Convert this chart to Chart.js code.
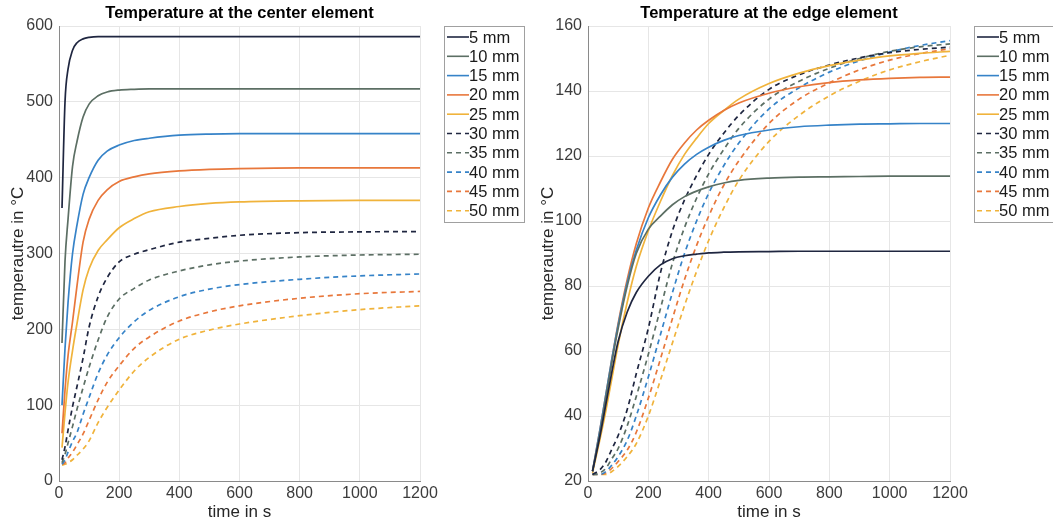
<!DOCTYPE html>
<html>
<head>
<meta charset="utf-8">
<script src="https://cdn.jsdelivr.net/npm/chart.js@4/dist/chart.umd.min.js"></script>
<style>
    body {margin: 0; background: #ffffff;}
    #left_box {position: absolute; left: 0; top: 0; width: 530px; height: 524px;}
    #right_box {position: absolute; left: 530px; top: 0; width: 523px; height: 524px;}
</style>
</head>
<body>
<div id="left_box"><canvas id="center_canvas" width="530" height="524"></canvas></div>
<div id="right_box"><canvas id="edge_canvas" width="523" height="524"></canvas></div>
<script>
const series_labels = ["5 mm","10 mm","15 mm","20 mm","25 mm","30 mm","35 mm","40 mm","45 mm","50 mm"];

// center element, time in s and temperature in °C
const center_time = [10, 20, 30, 45, 60, 80, 100, 130, 160, 200, 250, 300, 400, 500, 600, 800, 1000, 1200];
const center_5 = [360, 500, 543, 568, 578, 583, 585, 586, 586, 586, 586, 586, 586, 586, 586, 586, 586, 586];
const center_10 = [182, 290, 345, 415, 448, 480, 497, 508, 513, 515.5, 516.5, 517, 517, 517, 517, 517, 517, 517];
const center_15 = [100, 175, 235, 300, 338, 378, 400, 423, 435, 443, 449, 452, 456, 457.5, 458, 458, 458, 458];
const center_20 = [63, 120, 165, 210, 258, 315, 345, 370, 384, 395, 401, 405, 409, 411, 412, 413, 413, 413];
const center_25 = [44, 90, 130, 172, 208, 252, 280, 304, 318, 334, 346, 355, 362, 366, 368, 369.5, 370, 370];
const center_30 = [28, 45, 67, 98, 125, 162, 203, 243, 268, 289, 299, 305, 315, 320, 324, 327.5, 328.5, 329];
const center_35 = [24, 35, 50, 72, 95, 123, 150, 186, 216, 240, 254, 265, 277, 285, 290, 295.5, 298, 299];
const center_40 = [22, 28, 38, 52, 64, 88, 110, 142, 166, 189, 210, 225, 243, 253, 259, 266, 270.5, 273];
const center_45 = [22, 24, 30, 38, 48, 62, 80, 107, 130, 152, 175, 190, 211, 223, 231, 241, 247, 250];
const center_50 = [21, 22, 24, 28, 34, 42, 53, 77, 97, 120, 145, 163, 187, 199, 207, 218, 226, 231];

// edge element
const edge_time = [15, 40, 60, 80, 100, 130, 160, 200, 240, 280, 320, 360, 400, 450, 500, 600, 700, 800, 900, 1000, 1100, 1200];
const edge_5 = [23, 34, 44, 54, 63, 72, 78, 83, 86.5, 88.4, 89.3, 89.8, 90.2, 90.4, 90.5, 90.6, 90.7, 90.7, 90.7, 90.7, 90.7, 90.7];
const edge_10 = [23, 35, 46, 57, 67, 80, 90, 97.5, 101.5, 105, 107.5, 109.2, 110.5, 111.7, 112.5, 113.2, 113.5, 113.6, 113.7, 113.8, 113.8, 113.8];
const edge_15 = [23, 36, 47, 58, 68, 81, 91, 101, 108, 113.5, 117.5, 120.5, 122.7, 124.8, 126.3, 128, 129, 129.5, 129.8, 129.9, 130, 130];
const edge_20 = [23, 36, 47, 58, 68.5, 82, 93, 104, 112, 119, 124, 128, 131, 134, 136.3, 139.3, 141.3, 142.6, 143.4, 143.9, 144.2, 144.3];
const edge_25 = [22.5, 33, 42, 52, 62, 75, 86, 97, 106, 114, 120.5, 125.5, 130, 134, 137.5, 142.3, 145.5, 147.8, 149.5, 150.8, 151.6, 152.2];
const edge_30 = [22, 23.5, 26, 30, 34, 42, 53, 67, 84, 97, 106.5, 114, 120.5, 127, 132.5, 140.5, 145, 148, 150.2, 151.8, 152.8, 153.5];
const edge_35 = [22, 22.5, 24, 27, 30, 37, 46, 59, 73, 87, 98, 107, 114.5, 122, 128.5, 137.5, 143, 147, 150, 152.2, 153.6, 154.5];
const edge_40 = [22, 22, 23, 25, 27.5, 32.5, 40, 52, 65, 78, 90, 100, 108.5, 117, 124, 134.5, 141, 145.8, 149.3, 152, 154, 155.5];
const edge_45 = [22, 22, 22.5, 24, 26, 29.5, 35, 45.5, 57.5, 70, 82, 92.5, 101.5, 111, 118.5, 130, 137.5, 142.5, 146.5, 149.5, 151.5, 153];
const edge_50 = [22, 22, 22, 23, 24.5, 27.5, 31.5, 40, 51, 62.5, 74, 84.5, 94, 104, 112.5, 124.5, 132.5, 138.5, 143, 146.5, 149, 151];

const x_ticks = [0, 200, 400, 600, 800, 1000, 1200];
const center_y_ticks = [0, 100, 200, 300, 400, 500, 600];
const edge_y_ticks = [20, 40, 60, 80, 100, 120, 140, 160];

const line_colors = ["#1f2640", "#5c6f64", "#3683c8", "#e8773b", "#f0b33b"];
const font_family = "'Liberation Sans', Arial, sans-serif";

// legend drawn as a boxed list right of the plot, like the matlab one
const box_legend = {
    id: "box_legend",
    afterDraw(chart, args, opts) {
        const ctx = chart.ctx;
        const area = chart.chartArea;
        const sets = chart.data.datasets;
        const left = area.right + opts.offset;
        const top = area.top;
        const row = 19.3;
        const height = row * sets.length + 3;

        ctx.save();
        ctx.fillStyle = "#ffffff";
        ctx.fillRect(left, top, opts.width, height);
        ctx.strokeStyle = "#a0a0a0";
        ctx.lineWidth = 1;
        ctx.strokeRect(left + 0.5, top + 0.5, opts.width, height);

        ctx.font = "16.5px " + font_family;
        ctx.textBaseline = "middle";
        ctx.textAlign = "left";
        sets.forEach(function(set, i) {
            const y = top + 11 + row * i;
            ctx.beginPath();
            ctx.setLineDash(set.borderDash || []);
            ctx.strokeStyle = set.borderColor;
            ctx.lineWidth = 1.6;
            ctx.moveTo(left + 3, y);
            ctx.lineTo(left + 25, y);
            ctx.stroke();
            ctx.setLineDash([]);
            ctx.fillStyle = "#1a1a1a";
            ctx.fillText(set.label, left + 25, y + 1);
        });
        ctx.restore();
    }
};

function make_datasets(times, series_list) {
    let datasets = [];
    series_list.forEach(function(values, i) {
        datasets.push({
            label: series_labels[i],
            data: times.map(function(t, k) {return {x: t, y: values[k]};}),
            borderColor: line_colors[i % 5],
            backgroundColor: line_colors[i % 5],
            borderWidth: 1.7,
            borderDash: i < 5 ? [] : [5, 4],
            pointRadius: 0,
            cubicInterpolationMode: "monotone",
            fill: false
        });
    });
    return datasets;
}

function make_config(title, datasets, y_ticks, axis_width, legend_offset) {
    const y_min = y_ticks[0];
    const y_max = y_ticks[y_ticks.length - 1];
    return {
        type: "line",
        data: {datasets: datasets},
        plugins: [box_legend],
        options: {
            responsive: false,
            animation: false,
            devicePixelRatio: 1,
            layout: {padding: {left: 0, top: 0, bottom: 0, right: 110}},
            plugins: {
                legend: {display: false},
                tooltip: {enabled: false},
                title: {
                    display: true,
                    text: title,
                    fullSize: false,
                    color: "#000000",
                    font: {family: font_family, size: 16.5, weight: "bold"},
                    padding: {top: 4, bottom: 2.2}
                },
                box_legend: {offset: legend_offset, width: 80}
            },
            scales: {
                x: {
                    type: "linear",
                    min: 0,
                    max: 1200,
                    afterBuildTicks: function(scale) {
                        scale.ticks = x_ticks.map(function(v) {return {value: v};});
                    },
                    afterFit: function(scale) {scale.height = 43;},
                    grid: {color: "#e6e6e6", drawTicks: false},
                    border: {color: "#8a8a8a", width: 1},
                    ticks: {
                        color: "#3c3c3c",
                        padding: 2.5,
                        font: {family: font_family, size: 16},
                        callback: function(value) {return String(value);}
                    },
                    title: {
                        display: true,
                        text: "time in s",
                        color: "#262626",
                        font: {family: font_family, size: 17},
                        padding: {top: 0, bottom: 1}
                    }
                },
                y: {
                    type: "linear",
                    min: y_min,
                    max: y_max,
                    afterBuildTicks: function(scale) {
                        scale.ticks = y_ticks.map(function(v) {return {value: v};});
                    },
                    afterFit: function(scale) {scale.width = axis_width;},
                    grid: {color: "#e6e6e6", drawTicks: false},
                    border: {color: "#8a8a8a", width: 1},
                    ticks: {
                        color: "#3c3c3c",
                        padding: 6,
                        font: {family: font_family, size: 16},
                        callback: function(value) {return String(value);}
                    },
                    title: {
                        display: true,
                        text: "temperautre in °C",
                        color: "#262626",
                        font: {family: font_family, size: 17},
                        padding: {top: 8, bottom: 0}
                    }
                }
            }
        }
    };
}

let center_plot;
let edge_plot;

function setup_center_plot() {
    const datasets = make_datasets(center_time, [center_5, center_10, center_15, center_20, center_25,
        center_30, center_35, center_40, center_45, center_50]);
    let config = make_config("Temperature at the center element", datasets, center_y_ticks, 59, 24);
    center_plot = new Chart(document.getElementById("center_canvas"), config);
}

function setup_edge_plot() {
    const datasets = make_datasets(edge_time, [edge_5, edge_10, edge_15, edge_20, edge_25,
        edge_30, edge_35, edge_40, edge_45, edge_50]);
    let config = make_config("Temperature at the edge element", datasets, edge_y_ticks, 58, 24);
    config.options.layout.padding.right = 103;
    edge_plot = new Chart(document.getElementById("edge_canvas"), config);
}

setup_center_plot();
setup_edge_plot();
</script>
</body>
</html>
